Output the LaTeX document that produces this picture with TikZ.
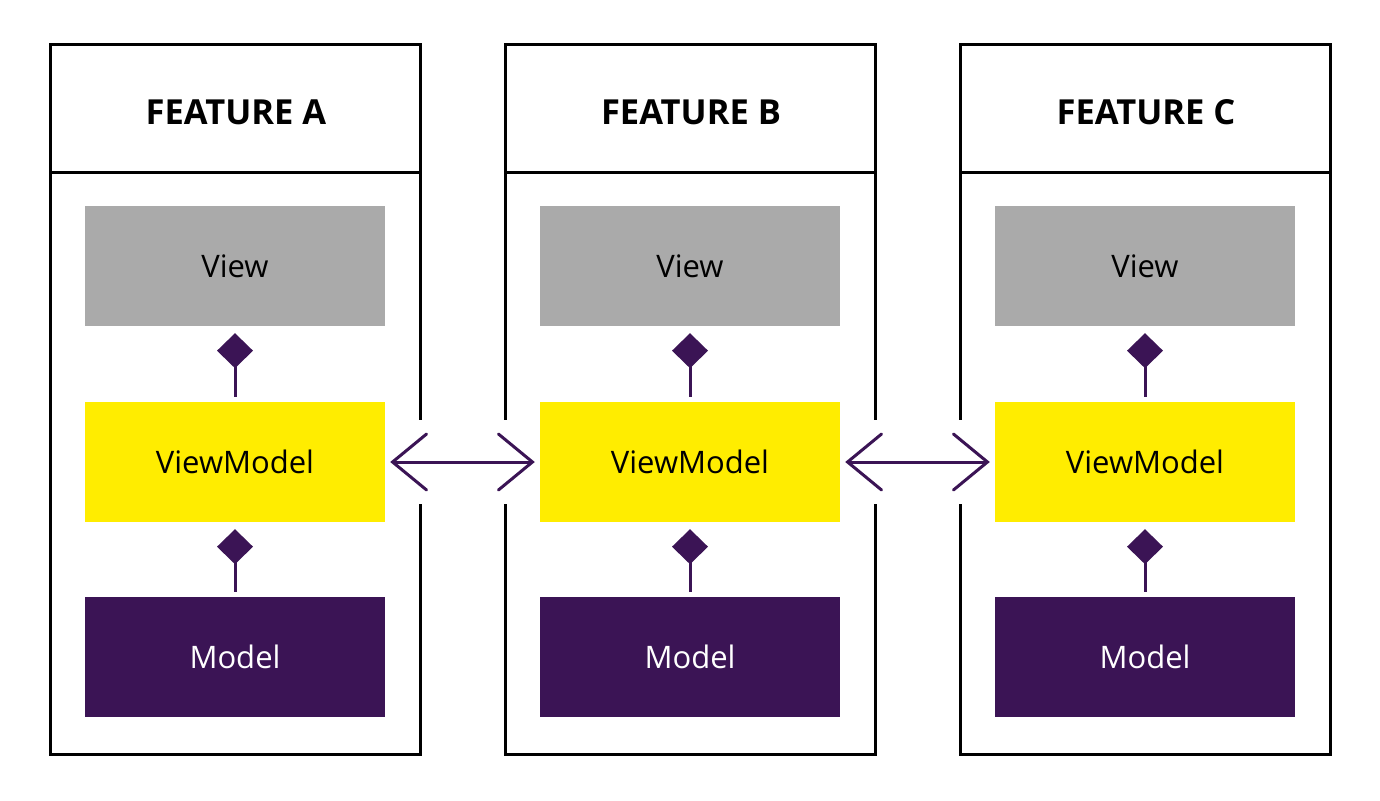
\documentclass[tikz,border=0pt]{standalone}
\usepackage{fontspec}
\setmainfont{Open Sans}
\usetikzlibrary{arrows.meta}
\definecolor{mvvmpurple}{HTML}{3B1455}
\definecolor{mvvmyellow}{HTML}{FFED00}
\definecolor{mvvmgray}{HTML}{AAAAAA}
\tikzset{
	layer/.style={minimum width=300pt,minimum height=120pt,inner sep=0pt,font=\fontsize{31}{34}\selectfont},
	owns/.style={draw=mvvmpurple,fill=mvvmpurple,line width=3pt,{Diamond[length=35pt,width=36pt]}-,shorten <=7pt,shorten >=5pt},
	talks/.style={draw=mvvmpurple,line width=3pt,line cap=round,{Straight Barb[length=34pt,width=56pt,line cap=round]}-{Straight Barb[length=34pt,width=56pt,line cap=round]},shorten <=5pt,shorten >=5pt}
}
\begin{document}
\begin{tikzpicture}[x=1pt,y=-1pt]
	\useasboundingbox (0,0) rectangle (1380,800);
	\foreach \f [count=\i from 0] in {A,B,C}{
	\begin{scope}[xshift=\i*455pt]
		\draw[line width=3pt](50,45) rectangle (420,754);
		\draw[line width=3pt](50,172)--(420,172);
		\node[font=\fontsize{34.5}{38}\selectfont\bfseries] (head\f) at (236,112) {FEATURE \f};
		\node[layer,fill=mvvmgray] (view\f) at (235,266) {View};
		\node[layer,fill=mvvmyellow] (vm\f) at (235,462) {ViewModel};
		\node[layer,fill=mvvmpurple,text=white] (model\f) at (235,657) {Model};
		\draw[owns](view\f.south)--(vm\f.north);
		\draw[owns](vm\f.south)--(model\f.north);
	\end{scope}
	}
	% gaps in the frames where the arrows pass
	\fill[white](400,420) rectangle (525,504);
	\fill[white](855,420) rectangle (980,504);
	\draw[talks](vmA.east)--(vmB.west);
	\draw[talks](vmB.east)--(vmC.west);
\end{tikzpicture}
\end{document}
